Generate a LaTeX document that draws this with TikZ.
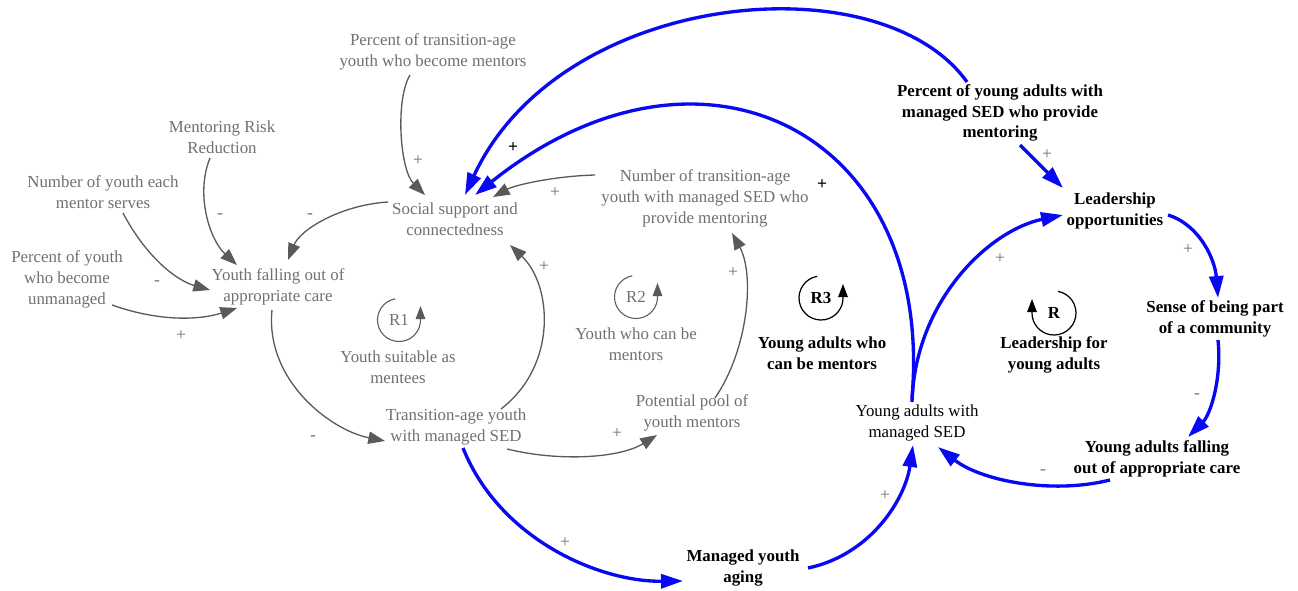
\documentclass[tikz,border=0pt]{standalone}
\usepackage{fontspec}
\setmainfont{Liberation Serif}
\usetikzlibrary{arrows.meta}
\definecolor{gtext}{RGB}{112,112,112}
\definecolor{garrow}{RGB}{90,90,90}
\definecolor{barrow}{RGB}{8,8,245}
\tikzset{
 var/.style={align=center, text=gtext, font=\fontsize{9.6}{11.9}\selectfont, inner sep=1pt},
 bvar/.style={align=center, text=black, font=\fontsize{9.6}{11.9}\selectfont\bfseries, inner sep=1pt},
 kvar/.style={align=center, text=black, font=\fontsize{9.6}{11.9}\selectfont, inner sep=1pt},
 glink/.style={draw=garrow, line width=0.75pt, -{Triangle[length=9.5pt,width=7pt]}},
 blink/.style={draw=barrow, line width=1.9pt, -{Triangle[length=12.5pt,width=8pt]}},
 pol/.style={text=gtext, font=\fontsize{10}{10}\selectfont, inner sep=0pt},
 bpol/.style={text=black, font=\fontsize{10}{10}\selectfont\bfseries, inner sep=0pt},
 gloop/.style={draw=garrow, line width=0.6pt, -{Triangle[length=7.5pt,width=5.5pt]}},
 kloop/.style={draw=black, line width=0.7pt, -{Triangle[length=7.5pt,width=5.5pt]}},
}
\begin{document}
\begin{tikzpicture}[x=0.02cm,y=-0.02cm]
\useasboundingbox (0,0) rectangle (1298,591);
% variables
\node[var] (pt) at (433,52) {Percent of transition-age\\youth who become mentors};
\node[var] (mrr) at (222,137) {Mentoring Risk\\Reduction};
\node[var] (nye) at (103,192) {Number of youth each\\mentor serves};
\node[var] (pyu) at (67,279) {Percent of youth\\who become\\unmanaged};
\node[var] (yf) at (278,287) {Youth falling out of\\appropriate care};
\node[var] (ss) at (455,219) {Social support and\\connectedness};
\node[var] (nt) at (705,198) {Number of transition-age\\youth with managed SED who\\provide mentoring};
\node[var] (ty) at (456,427) {Transition-age youth\\with managed SED};
\node[var] (pp) at (692,413) {Potential pool of\\youth mentors};
\node[var] (r1lab) at (398,367) {Youth suitable as\\mentees};
\node[var] (r2lab) at (636,344) {Youth who can be\\mentors};
\node[var] (r1) at (399,320) {R1};
\node[var] (r2) at (636,297) {R2};
\node[bvar] (r3) at (821,298) {R3};
\node[bvar] (r) at (1054,313) {R};
\node[bvar] (r3lab) at (822,353) {Young adults who\\can be mentors};
\node[bvar] (rlab) at (1054,355) {Leadership for\\young adults};
\node[kvar] (yam) at (917,423) {Young adults with\\managed SED};
\node[bvar] (yaf) at (1157,459) {Young adults falling\\out of appropriate care};
\node[bvar] (sb) at (1215,319) {Sense of being part\\of a community};
\node[bvar] (lo) at (1115,211) {Leadership\\opportunities};
\node[bvar] (pya) at (1000,113) {Percent of young adults with\\managed SED who provide\\mentoring};
\node[bvar] (mya) at (743,568) {Managed youth\\aging};
% loop symbols
\draw[gloop] (r1.center) ++(-100:21.5) arc[start angle=-100,end angle=-360,radius=21.5] -- ++(0,-14);
\draw[gloop] (r2.center) ++(-100:21.5) arc[start angle=-100,end angle=-360,radius=21.5] -- ++(0,-14);
\draw[kloop] (r3.center) ++(-100:22) arc[start angle=-100,end angle=-360,radius=22] -- ++(0,-14);
\draw[kloop] (r.center) ++(-80:22) arc[start angle=-80,end angle=180,radius=22] -- ++(0,-14);
% grey links
\draw[glink] ([shift={(-23,23)}]pt.center) .. controls (395,100) and (400,170) .. ([shift={(-30,-24)}]ss.center);
\draw[glink] ([shift={(-12,21)}]mrr.center) .. controls (195,195) and (210,240) .. ([shift={(-41,-22)}]yf.center);
\draw[glink] ([shift={(20,21)}]nye.center) .. controls (145,255) and (175,280) .. ([shift={(-68,3)}]yf.center);
\draw[glink] ([shift={(45,26)}]pyu.center) .. controls (160,322) and (200,320) .. ([shift={(-41,21)}]yf.center);
\draw[glink] ([shift={(-67,-17)}]ss.center) .. controls (340,205) and (300,230) .. ([shift={(10,-27)}]yf.center);
\draw[glink] ([shift={(-6,23)}]yf.center) .. controls (265,380) and (330,430) .. ([shift={(-71,14)}]ty.center);
\draw[glink] ([shift={(45,-18)}]ty.center) .. controls (558,365) and (552,285) .. ([shift={(55,26)}]ss.center);
\draw[glink] ([shift={(51,22)}]ty.center) .. controls (560,462) and (620,458) .. ([shift={(-35,22)}]pp.center);
\draw[glink] ([shift={(23,-15)}]pp.center) .. controls (748,350) and (755,275) .. ([shift={(27,35)}]nt.center);
\draw[glink] ([shift={(-110,-23)}]nt.center) .. controls (555,176) and (515,185) .. ([shift={(38,-22)}]ss.center);
% blue links
\draw[blink] ([shift={(-33,-31)}]pya.center) .. controls (880,-40) and (560,-10) .. ([shift={(10,-24)}]ss.center);
\draw[blink] ([shift={(-5,-25)}]yam.center) .. controls (935,130) and (700,15) .. ([shift={(20,-24)}]ss.center);
\draw[blink] ([shift={(-5,-21)}]yam.center) .. controls (915,300) and (990,230) .. ([shift={(-52,4)}]lo.center);
\draw[blink] ([shift={(20,32)}]pya.center) .. controls (1035,160) and (1050,175) .. ([shift={(-52,-23)}]lo.center);
\draw[blink] ([shift={(53,4)}]lo.center) .. controls (1200,225) and (1215,260) .. ([shift={(3,-21)}]sb.center);
\draw[blink] ([shift={(3,21)}]sb.center) .. controls (1222,380) and (1210,415) .. ([shift={(31,-22)}]yaf.center);
\draw[blink] ([shift={(-47,21)}]yaf.center) .. controls (1050,495) and (980,480) .. ([shift={(21,24)}]yam.center);
\draw[blink] ([shift={(7,21)}]ty.center) .. controls (500,540) and (600,582) .. ([shift={(-60,13)}]mya.center);
\draw[blink] ([shift={(65,0)}]mya.center) .. controls (870,555) and (905,500) .. ([shift={(-4,22)}]yam.center);
% polarities
\node[pol] (p1) at (418,161) {+};
\node[pol] (p2) at (220,216) {-};
\node[pol] (p3) at (157,283) {-};
\node[pol] (p4) at (181,336) {+};
\node[pol] (p5) at (310,216) {-};
\node[pol] (p6) at (313,438) {-};
\node[pol] (p7) at (544,267) {+};
\node[pol] (p8) at (617,434) {+};
\node[pol] (p9) at (733,273) {+};
\node[pol] (p10) at (555,193) {+};
\node[bpol] (p11) at (513,148) {+};
\node[bpol] (p12) at (822,185) {+};
\node[pol] (p13) at (1000,259) {+};
\node[pol] (p14) at (1047,155) {+};
\node[pol] (p15) at (1188,250) {+};
\node[pol] (p16) at (1197,396) {-};
\node[pol] (p17) at (1043,472) {-};
\node[pol] (p18) at (565,543) {+};
\node[pol] (p19) at (885,496) {+};
\end{tikzpicture}
\end{document}
